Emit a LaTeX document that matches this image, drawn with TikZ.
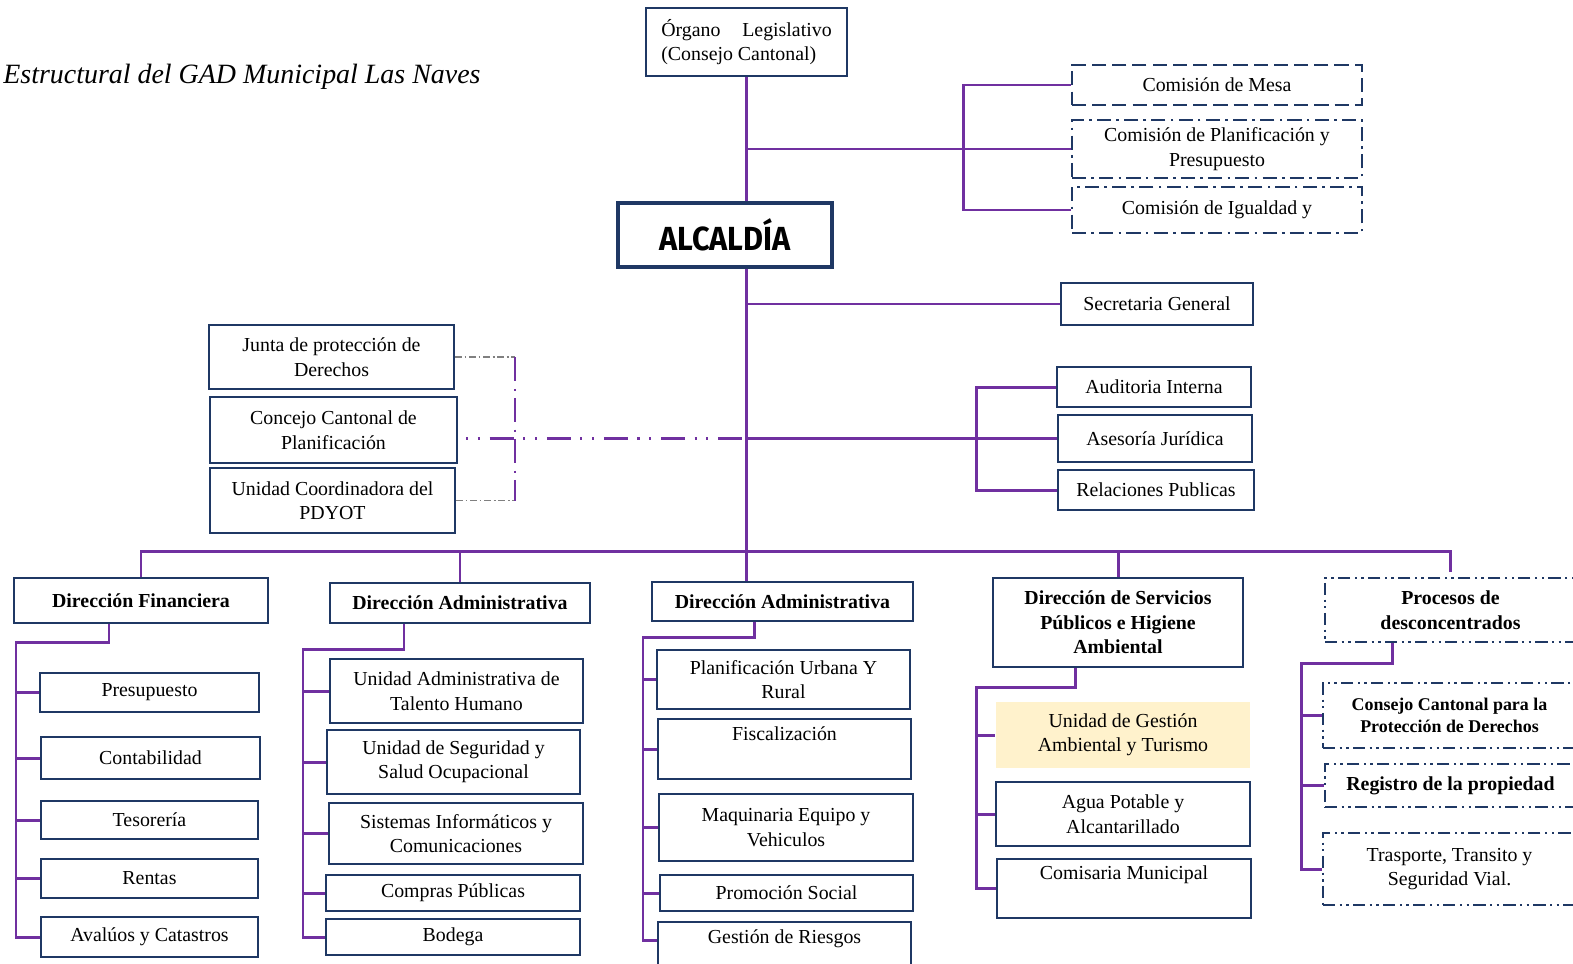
\documentclass[tikz,border=0pt]{standalone}
\usepackage{fontspec}
\usepackage{graphicx}
\setmainfont{Liberation Serif}
\newfontfamily\alcfont{Fira Sans}
\usetikzlibrary{positioning}
\definecolor{lila}{HTML}{7030A0}
\definecolor{marino}{HTML}{1F3864}
\definecolor{crema}{HTML}{FFF2CC}

\tikzset{
  spot/.style args={#1:#2:#3:#4}{at={({(#1+#3)/2},{(#2+#4)/2})},
    minimum width={(#3-#1)*0.02cm}, minimum height={(#4-#2)*0.02cm}},
  box/.style={draw=marino, line width=1.1pt, fill=white, inner sep=0pt,
    align=center, font=\fontsize{11.3}{13.9}\selectfont},
  boldbox/.style={box, font=\fontsize{11.3}{13.9}\selectfont\bfseries},
  dashbox/.style={box, dash pattern=on 8pt off 3.5pt},
  dotbox/.style={box, dash pattern=on 8pt off 3pt on 1.5pt off 3pt},
  dotdotbox/.style={box, dash pattern=on 7pt off 2.5pt on 1.3pt off 2.5pt on 1.3pt off 2.5pt},
  link/.style={draw=lila, line width=1.7pt},
  dotlink/.style={draw=lila, line width=1.5pt, dash pattern=on 13.6pt off 4.5pt on 1.2pt off 4pt},
  dotdotlink/.style={draw=lila, line width=1.7pt, dash pattern=on 13.6pt off 5.5pt on 1.2pt off 5.5pt on 1.2pt off 5.5pt, dash phase=19pt},
  greylink/.style={draw=gray, line width=0.6pt, dash pattern=on 4pt off 1.5pt on 1pt off 1.5pt}
}

\begin{document}
\begin{tikzpicture}[x=0.02cm, y=-0.02cm]
  \useasboundingbox (0,0) rectangle (1573,964);
  \clip (0,0) rectangle (1573,964);

  \node[anchor=base west, inner sep=0pt, font=\itshape\fontsize{15.9}{19}\selectfont] (titulo) at (3,83)
    {Estructural del GAD Municipal Las Naves};

  % top of the chart
  \node[box, align=left, spot=646:8:847:76] (org)
    {Órgano\hspace{1.1em}Legislativo\\(Consejo Cantonal)};
  \node[draw=marino, line width=2.3pt, fill=white, inner sep=0pt, spot=618:203:832:267,
    font=\alcfont\bfseries\fontsize{19}{22}\selectfont] (alc) {\scalebox{0.92}[1]{ALCALDÍA}};

  \node[dashbox, spot=1072:65:1362:105] (mesa) {Comisión de Mesa};
  \node[dotbox, spot=1072:120:1362:178] (plan) {Comisión de Planificación y\\Presupuesto};
  \node[dotbox, spot=1072:187:1362:233] (igual) {Comisión de Igualdad y};

  \node[box, spot=1061:283:1253:325] (secre) {Secretaria General};
  \node[box, spot=1057:367:1251:407] (audit) {Auditoria Interna};
  \node[box, spot=1058:415:1252:462] (aseso) {Asesoría Jurídica};
  \node[box, spot=1058:470:1254:510] (relac) {Relaciones Publicas};

  \node[box, spot=209:325:454:389] (junta) {Junta de protección de\\Derechos};
  \node[box, spot=210:397:457:463] (concejo) {Concejo Cantonal de\\Planificación};
  \node[box, spot=210:468:455:533] (pdyot) {Unidad Coordinadora del\\PDYOT};

  % direcciones
  \node[boldbox, spot=14:578:268:623] (dfin) {Dirección Financiera};
  \node[boldbox, spot=330:583:590:623] (dadm) {Dirección Administrativa};
  \node[boldbox, spot=652:582:913:621] (dadm2) {Dirección Administrativa};
  \node[boldbox, spot=993:578:1243:667] (dserv)
    {Dirección de Servicios\\Públicos e Higiene\\Ambiental};
  \node[dotdotbox, font=\fontsize{11.3}{13.9}\selectfont\bfseries, spot=1325:578:1576:642] (proc)
    {Procesos de\\desconcentrados};

  \node[box, spot=40:673:259:712] (pres) {Presupuesto};
  \node[box, spot=41:737:260:779] (conta) {Contabilidad};
  \node[box, spot=41:801:258:839] (teso) {Tesorería};
  \node[box, spot=41:859:258:898] (rent) {Rentas};
  \node[box, spot=41:917:258:957] (aval) {Avalúos y Catastros};

  \node[box, spot=330:659:583:723] (uath) {Unidad Administrativa de\\Talento Humano};
  \node[box, spot=327:730:580:794] (usso) {Unidad de Seguridad y\\Salud Ocupacional};
  \node[box, spot=329:803:583:864] (sic) {Sistemas Informáticos y\\Comunicaciones};
  \node[box, spot=326:875:580:911] (compr) {Compras Públicas};
  \node[box, spot=326:919:580:955] (bodeg) {Bodega};

  \node[box, spot=657:650:910:709] (pur) {Planificación Urbana Y\\Rural};
  \node[box, spot=658:719:911:779] (fisc) {Fiscalización\\\strut};
  \node[box, spot=659:794:913:861] (maq) {Maquinaria Equipo y\\Vehiculos};
  \node[box, spot=660:875:913:911] (prom) {Promoción Social};
  \node[box, spot=658:922:911:982] (gest) {Gestión de Riesgos\\\strut};

  \node[box, draw=none, fill=crema, spot=996:702:1250:768] (uga)
    {Unidad de Gestión\\Ambiental y Turismo};
  \node[box, spot=996:782:1250:846] (agua) {Agua Potable y\\Alcantarillado};
  \node[box, spot=997:859:1251:918] (comis) {Comisaria Municipal\\\strut};

  \node[dotdotbox, font=\fontsize{10.2}{12.8}\selectfont\bfseries, spot=1323:683:1576:748] (ccpd)
    {Consejo Cantonal para la\\Protección de Derechos};
  \node[dotdotbox, font=\fontsize{11.3}{13.9}\selectfont\bfseries, spot=1325:764:1576:807] (reg)
    {Registro de la propiedad};
  \node[dotdotbox, spot=1323:833:1576:905] (trans) {Trasporte, Transito y\\Seguridad Vial.};

  % trunk and upper branches
  \coordinate (bus) at (746,551);
  \coordinate (cb) at (963,0);
  \coordinate (ab) at (976,0);
  \coordinate (lb) at (515,0);
  \coordinate (lh) at (466,438);
  \draw[link] (org.south) -- (org.south |- alc.north);
  \draw[link] (org.south |- alc.south) -- (org.south |- dadm2.north);
  \draw[link] (org.south |- plan.west) -- (plan.west);
  \draw[link] (mesa.west) -- (mesa.west -| cb) -- (igual.west -| cb) -- (igual.west);
  \draw[link] (org.south |- secre.west) -- (secre.west);
  \draw[link] (org.south |- aseso.west) -- (aseso.west);
  \draw[link] (audit.west) -- (audit.west -| ab) -- (relac.west -| ab) -- (relac.west);

  \draw[greylink] (junta.east) -- (junta.east -| lb);
  \draw[greylink] (pdyot.east) -- (pdyot.east -| lb);
  \draw[dotlink] (junta.east -| lb) -- (pdyot.east -| lb);
  \draw[dotdotlink] (lh) -- (org.south |- lh);

  % bus to the direcciones
  \draw[link] (dfin.north) -- (dfin.north |- bus) -- (proc.north |- bus) -- ([shift={(0,-5)}]proc.north);
  \draw[link] (dadm.north |- bus) -- (dadm.north);
  \draw[link] (dserv.north |- bus) -- (dserv.north);

  % spines under each direccion
  \coordinate (fin) at (109,642);   \coordinate (finS) at (16,642);
  \coordinate (adm) at (404,649);   \coordinate (admS) at (303,649);
  \coordinate (adm2) at (754,637);  \coordinate (adm2S) at (643,637);
  \coordinate (serv) at (1075,687); \coordinate (servS) at (976,687);
  \coordinate (pro) at (1392,663);  \coordinate (proS) at (1301,663);
  \coordinate (gr) at (0,940);

  \draw[link] (dfin.south -| fin) -- (fin) -- (finS) -- (finS |- aval.west) -- (aval.west);
  \foreach \n in {pres,conta,teso,rent}
    \draw[link] (finS |- \n.west) -- (\n.west);

  \draw[link] (dadm.south -| adm) -- (adm) -- (admS) -- (admS |- bodeg.west) -- (bodeg.west);
  \foreach \n in {uath,usso,sic,compr}
    \draw[link] (admS |- \n.west) -- (\n.west);

  \draw[link] (dadm2.south -| adm2) -- (adm2) -- (adm2S) -- (adm2S |- gr) -- (gest.west |- gr);
  \foreach \n in {pur,fisc,maq,prom}
    \draw[link] (adm2S |- \n.west) -- (\n.west);

  \draw[link] (dserv.south -| serv) -- (serv) -- (servS) -- (servS |- comis.west) -- (comis.west);
  \foreach \n in {uga,agua}
    \draw[link] (servS |- \n.west) -- (\n.west);

  \draw[link] (proc.south -| pro) -- (pro) -- (proS) -- (proS |- trans.west) -- (trans.west);
  \foreach \n in {ccpd,reg}
    \draw[link] (proS |- \n.west) -- (\n.west);
\end{tikzpicture}
\end{document}
